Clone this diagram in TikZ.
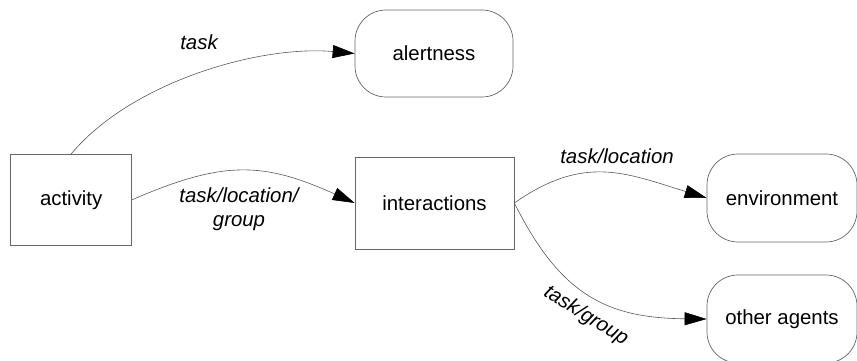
\documentclass[tikz,border=0pt]{standalone}
\usepackage{fontspec}
\setmainfont{Liberation Sans}
\usetikzlibrary{arrows.meta}
\begin{document}
\begin{tikzpicture}[x=1pt,y=-1pt,
  every node/.style={font=\fontsize{20.4}{24.5}\selectfont},
  sqbox/.style={draw=black!60, line width=0.7pt, inner sep=0pt, fill=white},
  rndbox/.style={draw=black!60, line width=0.7pt, inner sep=0pt, fill=white, rounded corners=31pt},
  flow/.style={draw=black!65, line width=0.6pt, -{Triangle[length=22pt,width=13pt,color=black,fill=black]}},
  lbl/.style={font=\fontsize{20.4}{24.5}\selectfont\itshape, inner sep=0pt, anchor=base}
]
\useasboundingbox (0,0) rectangle (857,361);
\clip (0,0) rectangle (857,361);

\node[sqbox, minimum width=121pt, minimum height=91pt] (act) at (71.2,199.8) {activity};
\node[sqbox, minimum width=159pt, minimum height=92pt] (inter) at (434.5,203) {interactions};
\node[rndbox, minimum width=158pt, minimum height=87pt] (alert) at (434,53.5) {alertness};
\node[rndbox, minimum width=150pt, minimum height=88pt] (env) at (782,198) {environment};
\node[rndbox, minimum width=150pt, minimum height=88pt] (oth) at (782,319) {other agents};

\draw[flow] (act.north) .. controls +(60,-72) and +(-95,-8.5) .. (alert.west);
\draw[flow] (act.east) .. controls +(92,-40) and +(-91,-41) .. (inter.west);
\draw[flow] (inter.east) .. controls +(70,-49) and +(-81,-25) .. (env.west);
\draw[flow] (inter.east) .. controls +(46,92) and +(-100,-1) .. (oth.west);

\node[lbl] (l1) at (199,50) {task};
\node[lbl, align=center] (l2) at (239,226.5) {task/location/\\group};
\node[lbl] (l3) at (617,163) {task/location};
\node[font=\fontsize{20.4}{24.5}\selectfont\itshape, inner sep=0pt, rotate=-32] (l4) at (586,316) {task/group};
\end{tikzpicture}
\end{document}
